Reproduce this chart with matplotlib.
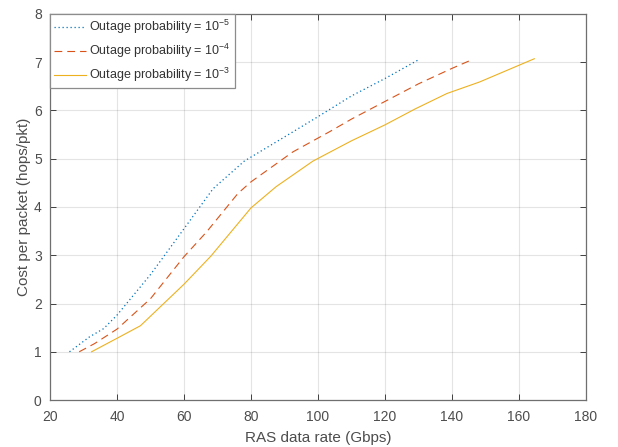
import matplotlib
matplotlib.use("Agg")
import matplotlib.pyplot as plt

plt.rcParams['font.family'] = ['Liberation Sans', 'DejaVu Sans']
plt.rcParams['mathtext.fontset'] = 'custom'
plt.rcParams['mathtext.rm'] = 'Liberation Sans'
plt.rcParams['mathtext.it'] = 'Liberation Sans:italic'
plt.rcParams['mathtext.bf'] = 'Liberation Sans:bold'

# Data
x_p5 = [25.8, 31.8, 36, 40, 50, 55.7, 60, 68.7, 78, 90, 100, 110, 120, 129.8]
y_p5 = [1.0, 1.31, 1.48, 1.76, 2.6, 3.14, 3.55, 4.38, 4.95, 5.45, 5.87, 6.3, 6.66, 7.04]

x_p4 = [28.7, 33.3, 40, 50, 60, 66.7, 76.1, 80, 92.5, 103.5, 110, 120.4, 130, 140, 146.3]
y_p4 = [1.0, 1.17, 1.47, 2.1, 2.97, 3.48, 4.28, 4.52, 5.14, 5.56, 5.82, 6.2, 6.55, 6.87, 7.06]

x_p3 = [32.4, 40, 47, 60, 68, 80, 87.5, 98.5, 110, 120, 129, 138.5, 148.3, 164.6]
y_p3 = [1.0, 1.28, 1.54, 2.4, 2.98, 3.98, 4.42, 4.95, 5.37, 5.7, 6.03, 6.35, 6.59, 7.07]

labels = [r'Outage probability = 10$^{\mathregular{-5}}$',
          r'Outage probability = 10$^{\mathregular{-4}}$',
          r'Outage probability = 10$^{\mathregular{-3}}$']

xticks = [20, 40, 60, 80, 100, 120, 140, 160, 180]
yticks = [0, 1, 2, 3, 4, 5, 6, 7, 8]

c_blue = '#0072BD'
c_orange = '#D95319'
c_yellow = '#EDB120'
axc = '#262626'

fig = plt.figure(figsize=(6.18, 4.47), dpi=100)
ax = fig.add_axes([0.081, 0.105, 0.867, 0.864])

ax.plot(x_p5, y_p5, color=c_blue, linestyle=(0, (1, 2.2)), linewidth=0.9, label=labels[0])
ax.plot(x_p4, y_p4, color=c_orange, linestyle=(0, (7, 4.5)), linewidth=0.8, label=labels[1])
ax.plot(x_p3, y_p3, color=c_yellow, linestyle='-', linewidth=0.8, label=labels[2])

ax.set_xlim(20, 180)
ax.set_ylim(0, 8)
ax.set_xticks(xticks)
ax.set_yticks(yticks)
ax.grid(True, color=axc, alpha=0.12, linewidth=0.8)
ax.set_axisbelow(True)
ax.tick_params(direction='in', top=True, right=True, length=4, width=0.6,
               colors=axc, labelcolor='#4d4d4d', labelsize=10)
ax.tick_params(axis='x', pad=7)
ax.tick_params(axis='y', pad=6)
for s in ax.spines.values():
    s.set_color('#6f6f6f')
    s.set_linewidth(0.9)

ax.set_xlabel('RAS data rate (Gbps)', fontsize=11, color='#4d4d4d', labelpad=5)
ax.set_ylabel('Cost per packet (hops/pkt)', fontsize=11, color='#4d4d4d', labelpad=2)

leg = ax.legend(loc='upper left', borderaxespad=0, fancybox=False, framealpha=1,
                edgecolor='#8c8c8c', fontsize=9, handlelength=2.5,
                handletextpad=0.3, labelspacing=0.45, borderpad=0.35)
leg.get_frame().set_linewidth(0.9)
for t in leg.get_texts():
    t.set_color('#333333')

fig.savefig('out.png', dpi=100)
